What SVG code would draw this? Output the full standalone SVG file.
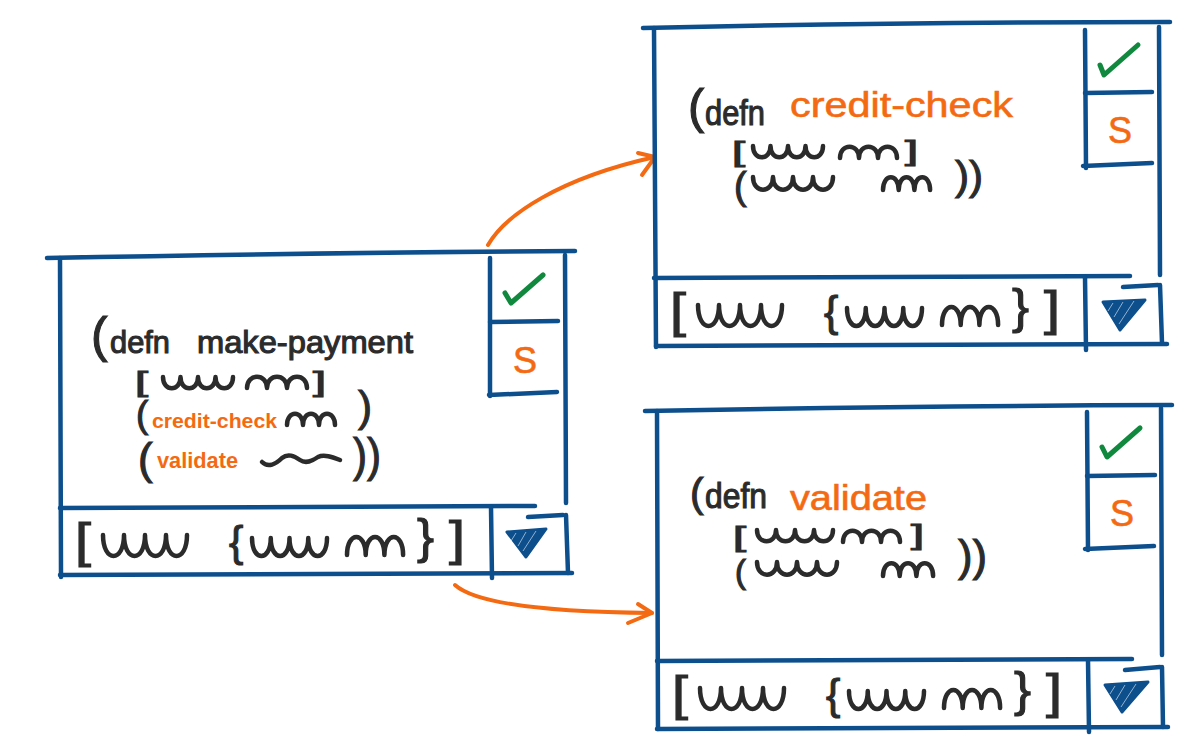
<svg xmlns="http://www.w3.org/2000/svg" width="1197" height="753" viewBox="0 0 1197 753">
<style>
.frame{fill:none;stroke:#0c4f8c;stroke-width:4.5;stroke-linecap:round;stroke-linejoin:round}
.ink{fill:#2b2b2b;stroke:#2b2b2b;stroke-width:1.1;font-family:"Liberation Sans",Arial,sans-serif}
.or{fill:#f46a12;stroke:#f46a12;stroke-width:0.6;font-family:"Liberation Sans",Arial,sans-serif}
.orb{fill:#f46a12;font-family:"Liberation Sans",Arial,sans-serif;font-weight:bold}
.sq{fill:none;stroke:#2b2b2b;stroke-width:4.5;stroke-linecap:round;stroke-linejoin:round}
.chk{fill:none;stroke:#10893e;stroke-width:5;stroke-linecap:round;stroke-linejoin:round}
.tri{fill:#0c4f8c;stroke:#0c4f8c;stroke-width:3;stroke-linejoin:round}
.hatch{fill:none;stroke:#ffffff;stroke-width:0.8;opacity:0.7}
.s{fill:#f46a12;stroke:#f46a12;stroke-width:0.6;font-family:"Liberation Sans",Arial,sans-serif;font-size:36px;text-anchor:middle}
.arrow{fill:none;stroke:#f46a12;stroke-width:4;stroke-linecap:round;stroke-linejoin:round}
</style>
<defs>
<g id="footer">
<text class="ink" x="75" y="557" font-size="48" textLength="16" lengthAdjust="spacingAndGlyphs">[</text>
<path class="sq" d="M103,535 c0,28 21,28 21,0 c0,28 21,28 21,0 c0,28 21,28 21,0 c0,28 21,28 21,0"/>
<text class="ink" x="229" y="556" font-size="43">{</text>
<path class="sq" d="M252,538 c0,24 18.75,24 18.75,0 c0,24 18.75,24 18.75,0 c0,24 18.75,24 18.75,0 c0,24 18.75,24 18.75,0"/>
<path class="sq" d="M347,555 c0,-24 18.7,-24 18.7,0 c0,-24 18.7,-24 18.7,0 c0,-24 18.7,-24 18.7,0"/>
<text class="ink" x="417" y="553" font-size="48" textLength="17" lengthAdjust="spacingAndGlyphs">}</text>
<text class="ink" x="449" y="555" font-size="48" textLength="16" lengthAdjust="spacingAndGlyphs">]</text>
</g>
</defs>
<rect width="1197" height="753" fill="#ffffff"/>

<g id="connectors">
<path class="arrow" d="M488,245 C505,215 560,178 655,157"/>
<path class="arrow" d="M638,153 L655,157 L642,175"/>
<path class="arrow" d="M455,585 C475,603 540,612 652,613"/>
<path class="arrow" d="M638,604 L652,613 L628,623"/>
</g>

<g id="node-make-payment">
<path class="frame" d="M47,258 Q300,253 575,251"/>
<path class="frame" d="M60,258 L61,577"/>
<path class="frame" d="M565,255 L566,503"/>
<path class="frame" d="M490,258 L490,396"/>
<path class="frame" d="M490,322 L558,321"/>
<path class="frame" d="M489,395 L557,392"/>
<path class="frame" d="M60,508 L535,506"/>
<path class="frame" d="M491,507 L492,578"/>
<path class="frame" d="M528,517 L563,515"/>
<path class="frame" d="M566,515 L568,573"/>
<path class="frame" d="M60,575 L572,573"/>
<path class="chk" d="M505,293 L511,303 L543,275"/>
<text class="s" x="525" y="373">S</text>
<path class="tri" d="M507,532 L546,529 L526,557 Z"/>
<path class="hatch" d="M516,533 L511,541 M526,532 L518,546 M536,531 L523,551"/>
<text class="ink" x="91" y="352" font-size="50">(</text>
<text class="ink" x="110" y="353" font-size="32" textLength="60" lengthAdjust="spacingAndGlyphs">defn</text>
<text class="ink" x="197" y="353" font-size="32" textLength="216" lengthAdjust="spacingAndGlyphs">make-payment</text>
<text class="ink" x="135" y="391" font-size="28" textLength="13" lengthAdjust="spacingAndGlyphs">[</text>
<path class="sq" d="M163,377 c0,15 17.5,15 17.5,0 c0,15 17.5,15 17.5,0 c0,15 17.5,15 17.5,0 c0,15 17.5,15 17.5,0"/>
<path class="sq" d="M247,388 c0,-15 20,-15 20,0 c0,-15 20,-15 20,0 c0,-15 20,-15 20,0"/>
<text class="ink" x="313" y="391" font-size="28" textLength="13" lengthAdjust="spacingAndGlyphs">]</text>
<text class="ink" x="136" y="427" font-size="37">(</text>
<text class="orb" x="152" y="428" font-size="20" textLength="125" lengthAdjust="spacingAndGlyphs">credit-check</text>
<path class="sq" d="M287,425 c0,-15 16,-15 16,0 c0,-15 16,-15 16,0 c0,-15 16,-15 16,0"/>
<text class="ink" x="358" y="421" font-size="42">)</text>
<text class="ink" x="138" y="474" font-size="44">(</text>
<text class="orb" x="157" y="468" font-size="22" textLength="81" lengthAdjust="spacingAndGlyphs">validate</text>
<path class="sq" d="M262,462 c6,6 14,2 20,-4 c6,-5 12,-2 18,2 c6,4 12,1 18,-3 c6,-3 14,0 22,3"/>
<text class="ink" x="353" y="471" font-size="46" textLength="28" lengthAdjust="spacingAndGlyphs">))</text>
<use href="#footer"/>
</g>

<g id="node-credit-check">
<path class="frame" d="M643,28 Q900,22 1170,22"/>
<path class="frame" d="M654,28 L656,347"/>
<path class="frame" d="M1159,27 L1160,275"/>
<path class="frame" d="M1085,30 L1086,168"/>
<path class="frame" d="M1085,93 L1152,92"/>
<path class="frame" d="M1083,166 L1152,163"/>
<path class="frame" d="M654,278 L1130,276"/>
<path class="frame" d="M1085,277 L1086,350"/>
<path class="frame" d="M1123,287 L1158,285"/>
<path class="frame" d="M1160,285 L1162,343"/>
<path class="frame" d="M656,346 L1167,344"/>
<path class="chk" d="M1100,65 L1104,75 L1138,45"/>
<text class="s" x="1120" y="143">S</text>
<path class="tri" d="M1103,302 L1145,300 L1120,330 Z"/>
<path class="hatch" d="M1113,303 L1108,311 M1123,302 L1114,317 M1134,301 L1119,324"/>
<text class="ink" x="688" y="123" font-size="49">(</text>
<text class="ink" x="705" y="125" font-size="35" textLength="60" lengthAdjust="spacingAndGlyphs">defn</text>
<text class="or" x="790" y="117" font-size="35" textLength="223" lengthAdjust="spacingAndGlyphs">credit-check</text>
<text class="ink" x="732" y="161" font-size="27" textLength="13" lengthAdjust="spacingAndGlyphs">[</text>
<path class="sq" d="M753,146 c0,15 17.5,15 17.5,0 c0,15 17.5,15 17.5,0 c0,15 17.5,15 17.5,0 c0,15 17.5,15 17.5,0"/>
<path class="sq" d="M840,158 c0,-15 19,-15 19,0 c0,-15 19,-15 19,0 c0,-15 19,-15 19,0"/>
<text class="ink" x="905" y="160" font-size="27" textLength="13" lengthAdjust="spacingAndGlyphs">]</text>
<text class="ink" x="734" y="199" font-size="38">(</text>
<path class="sq" d="M753,177 c0,17 20,17 20,0 c0,17 20,17 20,0 c0,17 20,17 20,0 c0,17 20,17 20,0"/>
<path class="sq" d="M883,190 c0,-17 15.7,-17 15.7,0 c0,-17 15.7,-17 15.7,0 c0,-17 15.7,-17 15.7,0"/>
<text class="ink" x="955" y="190" font-size="41" textLength="28" lengthAdjust="spacingAndGlyphs">))</text>
<use href="#footer" transform="translate(595,-230)"/>
</g>

<g id="node-validate">
<path class="frame" d="M645,411 Q900,406 1172,405"/>
<path class="frame" d="M657,411 L658,729"/>
<path class="frame" d="M1161,408 L1162,655"/>
<path class="frame" d="M1087,412 L1088,550"/>
<path class="frame" d="M1087,476 L1155,475"/>
<path class="frame" d="M1085,549 L1154,546"/>
<path class="frame" d="M657,661 L1132,659"/>
<path class="frame" d="M1088,660 L1089,732"/>
<path class="frame" d="M1125,670 L1160,667"/>
<path class="frame" d="M1162,667 L1163,727"/>
<path class="frame" d="M657,729 L1168,727"/>
<path class="chk" d="M1102,447 L1107,457 L1140,428"/>
<text class="s" x="1122" y="526">S</text>
<path class="tri" d="M1105,685 L1148,682 L1122,712 Z"/>
<path class="hatch" d="M1115,686 L1110,694 M1125,685 L1116,700 M1136,684 L1121,707"/>
<text class="ink" x="690" y="507" font-size="41">(</text>
<text class="ink" x="705" y="508" font-size="35" textLength="62" lengthAdjust="spacingAndGlyphs">defn</text>
<text class="or" x="790" y="510" font-size="35" textLength="137" lengthAdjust="spacingAndGlyphs">validate</text>
<text class="ink" x="733" y="546" font-size="27" textLength="13" lengthAdjust="spacingAndGlyphs">[</text>
<path class="sq" d="M757,530 c0,15 19,15 19,0 c0,15 19,15 19,0 c0,15 19,15 19,0 c0,15 19,15 19,0"/>
<path class="sq" d="M843,542 c0,-15 19,-15 19,0 c0,-15 19,-15 19,0 c0,-15 19,-15 19,0"/>
<text class="ink" x="911" y="544" font-size="27" textLength="13" lengthAdjust="spacingAndGlyphs">]</text>
<text class="ink" x="735" y="583" font-size="33">(</text>
<path class="sq" d="M757,562 c0,17 20,17 20,0 c0,17 20,17 20,0 c0,17 20,17 20,0 c0,17 20,17 20,0"/>
<path class="sq" d="M883,576 c0,-17 16.7,-17 16.7,0 c0,-17 16.7,-17 16.7,0 c0,-17 16.7,-17 16.7,0"/>
<text class="ink" x="958" y="571" font-size="45" textLength="29" lengthAdjust="spacingAndGlyphs">))</text>
<use href="#footer" transform="translate(597,153)"/>
</g>
</svg>
